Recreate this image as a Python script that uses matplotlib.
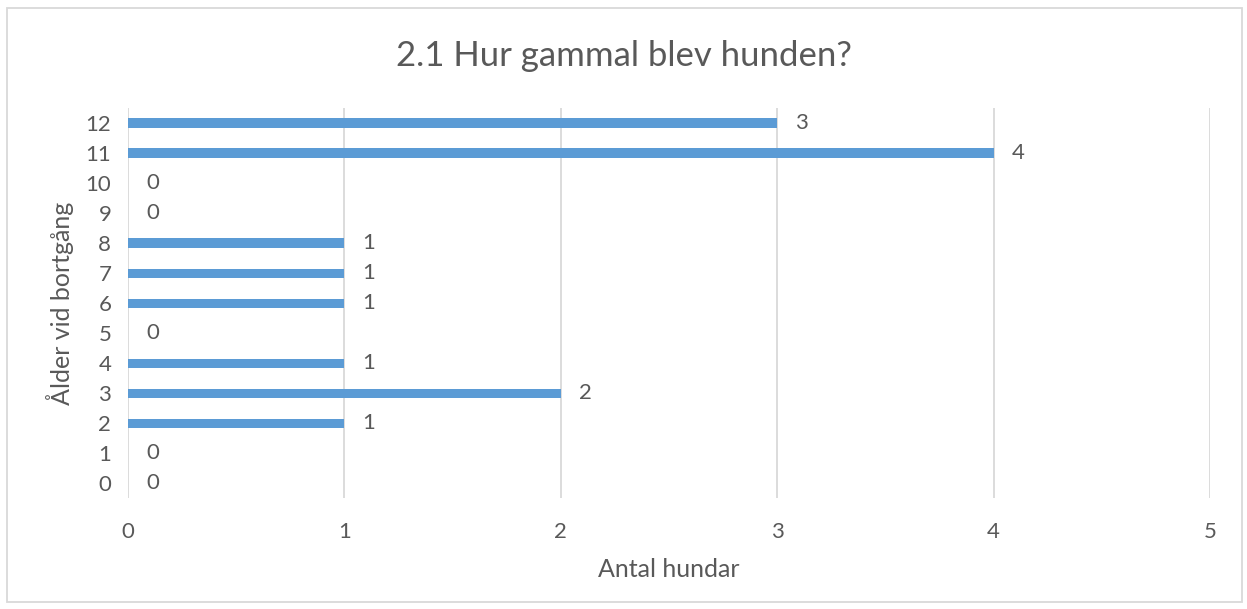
import matplotlib.pyplot as plt
from matplotlib.patches import Rectangle

ages = [0, 1, 2, 3, 4, 5, 6, 7, 8, 9, 10, 11, 12]
counts = [0, 0, 1, 2, 1, 0, 1, 1, 1, 0, 0, 4, 3]

plt.rcParams['font.family'] = ['Lato', 'DejaVu Sans']
text_col = '#595959'
grid_col = '#D9D9D9'
bar_col = '#5B9BD5'

fig = plt.figure(figsize=(12.47, 6.09), dpi=100)
ax = fig.add_axes([128 / 1247, 1 - 498 / 609, (1210 - 128) / 1247, 390 / 609])

ax.barh(ages, counts, height=0.3, color=bar_col, zorder=3)
for a, c in zip(ages, counts):
    ax.annotate(str(c), (c, a), xytext=(13, 0), textcoords='offset points',
                va='center', ha='left', fontsize=16, color=text_col)

ax.set_xlim(0, 5)
ax.set_ylim(-0.5, 12.5)
ax.set_yticks(ages)
ax.set_yticklabels([str(a) for a in ages])
ax.set_xticks(range(6))
ax.grid(axis='x', color=grid_col, linewidth=1.3, zorder=0)
for s in ax.spines.values():
    s.set_visible(False)
ax.tick_params(length=0, labelsize=16, colors=text_col)
ax.tick_params(axis='x', pad=17)
ax.tick_params(axis='y', pad=12)

ax.set_xlabel('Antal hundar', fontsize=18, color=text_col, labelpad=12)
ax.set_ylabel('Ålder vid bortgång', fontsize=18, color=text_col, labelpad=8)
fig.suptitle('2.1 Hur gammal blev hunden?', fontsize=25, color=text_col, y=0.935)

fig.patches.append(Rectangle((7 / 1247, 1 - 602 / 609), 1235 / 1247, 594 / 609,
                             transform=fig.transFigure, fill=False,
                             edgecolor=grid_col, linewidth=1.3))

fig.savefig('out.png', dpi=100)
